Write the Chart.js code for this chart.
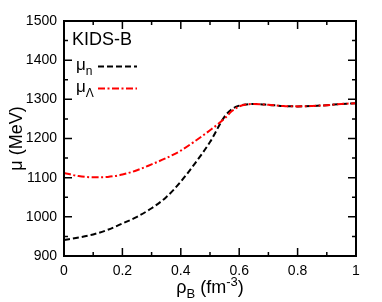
<!DOCTYPE html>
<html>
<head>
<meta charset="utf-8">
<script src="https://cdn.jsdelivr.net/npm/chart.js@4/dist/chart.umd.min.js"></script>
<style>
  html, body { margin: 0; padding: 0; background: #fff; }
  #wrap { width: 382px; height: 302px; }
</style>
</head>
<body>
<div id="wrap"><canvas id="c" width="382" height="302"></canvas></div>
<script>
// baryon density rho_B (fm^-3)
const rhoB = [0, 0.05, 0.1, 0.15, 0.2, 0.25, 0.3, 0.35, 0.4, 0.45, 0.5, 0.55, 0.575, 0.6, 0.625, 0.65, 0.7, 0.75, 0.8, 0.85, 0.9, 0.95, 1.0];
// chemical potentials (MeV)
const muN = [941, 947, 955, 967, 983, 1000, 1022, 1050, 1090, 1138, 1191, 1256, 1275, 1284, 1287, 1288, 1286, 1283, 1282, 1283, 1285, 1288, 1290];
const muLambda = [1112, 1104, 1101, 1102, 1108, 1119, 1134, 1150, 1169, 1194, 1221, 1251, 1270, 1282, 1287, 1288, 1286, 1283, 1282, 1283, 1285, 1288, 1290];
const yRange = [900, 1500];
const xRange = [0, 1];

const pts = ys => rhoB.map((x, i) => ({ x: x, y: ys[i] }));
const FONT = "'Liberation Sans', Arial, Helvetica, sans-serif";
Chart.defaults.font.family = FONT;
Chart.defaults.color = '#000';

const NDASH = [6, 3];
const LDASH = [7, 2.5, 2, 2.5];

// text with sub/superscripts, parts: [text, 'n'|'sub'|'sup']
function richText(ctx, parts, x, y, size) {
  let cx = x;
  for (const [t, k] of parts) {
    const s = k === 'n' ? size : Math.round(size * 0.7);
    const dy = k === 'sub' ? size * 0.3 : k === 'sup' ? -size * 0.4 : 0;
    ctx.font = s + 'px ' + FONT;
    ctx.fillText(t, cx, y + dy);
    cx += ctx.measureText(t).width;
  }
  return cx - x;
}
function richWidth(ctx, parts, size) {
  let w = 0;
  for (const [t, k] of parts) {
    const s = k === 'n' ? size : Math.round(size * 0.7);
    ctx.font = s + 'px ' + FONT;
    w += ctx.measureText(t).width;
  }
  return w;
}

const decor = {
  id: 'decor',
  afterDraw(chart) {
    const { ctx, chartArea: a, scales: { x, y } } = chart;
    ctx.save();
    ctx.strokeStyle = '#000';
    ctx.fillStyle = '#000';
    ctx.setLineDash([]);
    // inward ticks on all four sides
    ctx.lineWidth = 1.5;
    ctx.beginPath();
    for (let i = 0; i <= 10; i++) {
      const px = x.getPixelForValue(i / 10);
      const len = i % 2 === 0 ? 8 : 4;
      ctx.moveTo(px, a.bottom); ctx.lineTo(px, a.bottom - len);
      ctx.moveTo(px, a.top); ctx.lineTo(px, a.top + len);
    }
    for (let i = 0; i <= 12; i++) {
      const py = y.getPixelForValue(900 + 50 * i);
      const len = i % 2 === 0 ? 8 : 4;
      ctx.moveTo(a.left, py); ctx.lineTo(a.left + len, py);
      ctx.moveTo(a.right, py); ctx.lineTo(a.right - len, py);
    }
    ctx.stroke();
    // frame
    ctx.lineWidth = 2;
    ctx.strokeRect(a.left, a.top, a.width, a.height);

    // label
    ctx.textBaseline = 'alphabetic';
    ctx.textAlign = 'left';
    ctx.font = '18px ' + FONT;
    ctx.fillText('KIDS-B', 72, 45);

    // legend
    richText(ctx, [['μ', 'n'], ['n', 'sub']], 76, 70, 17);
    richText(ctx, [['μ', 'n'], ['Λ', 'sub']], 76, 92, 17);
    ctx.lineWidth = 2;
    ctx.strokeStyle = '#000';
    ctx.setLineDash(NDASH);
    ctx.beginPath(); ctx.moveTo(98, 66.5); ctx.lineTo(137, 66.5); ctx.stroke();
    ctx.strokeStyle = '#ff0000';
    ctx.setLineDash(LDASH);
    ctx.beginPath(); ctx.moveTo(98, 88.5); ctx.lineTo(137, 88.5); ctx.stroke();
    ctx.setLineDash([]);

    // x axis title
    const xt = [['ρ', 'n'], ['B', 'sub'], [' (fm', 'n'], ['-3', 'sup'], [')', 'n']];
    const xw = richWidth(ctx, xt, 18);
    richText(ctx, xt, (a.left + a.right) / 2 - xw / 2, 293, 18);

    // y axis title
    ctx.save();
    ctx.translate(22, (a.top + a.bottom) / 2);
    ctx.rotate(-Math.PI / 2);
    const yt = [['μ (MeV)', 'n']];
    const yw = richWidth(ctx, yt, 18);
    richText(ctx, yt, -yw / 2, 0, 18);
    ctx.restore();

    ctx.restore();
  }
};

new Chart(document.getElementById('c'), {
  type: 'line',
  data: {
    datasets: [
      {
        label: 'μΛ',
        data: pts(muLambda),
        borderColor: '#ff0000',
        borderWidth: 2,
        borderDash: LDASH,
        pointRadius: 0,
        cubicInterpolationMode: 'monotone',
        fill: false,
        order: 0
      },
      {
        label: 'μn',
        data: pts(muN),
        borderColor: '#000000',
        borderWidth: 2,
        borderDash: NDASH,
        pointRadius: 0,
        cubicInterpolationMode: 'monotone',
        fill: false,
        order: 1
      }
    ]
  },
  options: {
    responsive: false,
    animation: false,
    events: [],
    layout: { padding: { top: 21, right: 26, left: 0, bottom: 0 } },
    plugins: {
      legend: { display: false },
      tooltip: { enabled: false },
      title: { display: false }
    },
    scales: {
      x: {
        type: 'linear',
        min: xRange[0],
        max: xRange[1],
        grid: { display: false, drawTicks: false },
        border: { display: false },
        ticks: {
          stepSize: 0.2, padding: 7, font: { size: 14 }, color: '#000', maxRotation: 0,
          callback: v => String(Math.round(v * 10) / 10)
        },
        afterFit: s => { s.height = 46; }
      },
      y: {
        min: yRange[0],
        max: yRange[1],
        grid: { display: false, drawTicks: false },
        border: { display: false },
        ticks: {
          stepSize: 100, padding: 7, font: { size: 14 }, color: '#000',
          callback: v => String(v)
        },
        afterFit: s => { s.width = 64; }
      }
    }
  },
  plugins: [decor]
});
</script>
</body>
</html>
